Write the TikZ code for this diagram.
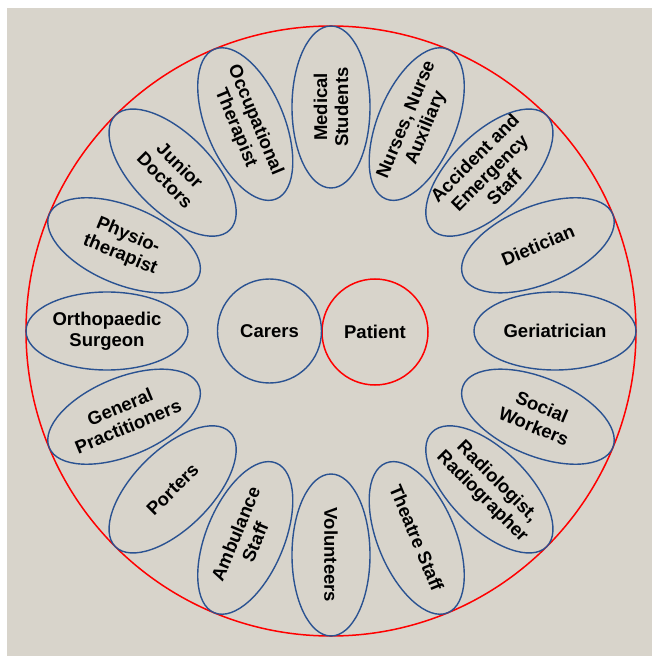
\documentclass[tikz,border=0pt]{standalone}
\usepackage{fontspec}
\setmainfont{Liberation Sans}
\usetikzlibrary{positioning}
\definecolor{backdrop}{RGB}{216,212,203}
\definecolor{ringblue}{RGB}{42,82,145}

\begin{document}
\begin{tikzpicture}[x=1pt, y=1pt, font=\fontsize{18.5}{21}\selectfont\bfseries,
    staff/.style={align=center, inner sep=0pt},
    ring/.style={draw=ringblue, line width=1.4pt}]
                \useasboundingbox (-331,-325) rectangle (321,331);
                \fill[backdrop] (-324,-325) rectangle (321,323);

                \node[circle, draw=red, line width=1.5pt, minimum size=610pt] (Team) at (0,0) {};
                \node[circle, draw=red, line width=1.5pt, minimum size=106pt] (Patient) at (44,-1) {Patient};
                \node[circle, ring, minimum size=104pt] (Carers) at (-61.5,0) {Carers};

                \node[staff] (Geriatrician) at (0:224) {Geriatrician};
                \node[staff, rotate=22.5] (Dietician) at (22.5:224) {Dietician};
                \node[staff, rotate=45] (Accident) at (45:224) {Accident and\\Emergency\\Staff};
                \node[staff, rotate=67.5] (Nurses) at (67.5:224) {Nurses, Nurse\\Auxiliary};
                \node[staff, rotate=90] (Medical Students) at (90:224) {Medical\\Students};
                \node[staff, rotate=-67.5] (Occupational) at (112.5:224) {Occupational\\Therapist};
                \node[staff, rotate=-45] (Junior Doctors) at (135:224) {Junior\\Doctors};
                \node[staff, rotate=-22.5] (Physio) at (157.5:224) {Physio-\\therapist};
                \node[staff] (Orthopaedic) at (180:224) {Orthopaedic\\Surgeon};
                \node[staff, rotate=22.5] (GP) at (202.5:224) {General\\Practitioners};
                \node[staff, rotate=45] (Porters) at (225:224) {Porters};
                \node[staff, rotate=67.5] (Ambulance) at (247.5:224) {Ambulance\\Staff};
                \node[staff, rotate=-90] (Volunteers) at (270:224) {Volunteers};
                \node[staff, rotate=-67.5] (Theatre) at (292.5:224) {Theatre Staff};
                \node[staff, rotate=-45] (Radiologist) at (315:224) {Radiologist,\\Radiographer};
                \node[staff, rotate=-22.5] (Social Workers) at (337.5:224) {Social\\Workers};

                \draw[ring] (Geriatrician) ellipse (81pt and 39pt);
                \draw[ring, rotate around={22.5:(Dietician)}] (Dietician) ellipse (81pt and 39pt);
                \draw[ring, rotate around={45:(Accident)}] (Accident) ellipse (81pt and 39pt);
                \draw[ring, rotate around={67.5:(Nurses)}] (Nurses) ellipse (81pt and 39pt);
                \draw[ring, rotate around={90:(Medical Students)}] (Medical Students) ellipse (81pt and 39pt);
                \draw[ring, rotate around={-67.5:(Occupational)}] (Occupational) ellipse (81pt and 39pt);
                \draw[ring, rotate around={-45:(Junior Doctors)}] (Junior Doctors) ellipse (81pt and 39pt);
                \draw[ring, rotate around={-22.5:(Physio)}] (Physio) ellipse (81pt and 39pt);
                \draw[ring] (Orthopaedic) ellipse (81pt and 39pt);
                \draw[ring, rotate around={22.5:(GP)}] (GP) ellipse (81pt and 39pt);
                \draw[ring, rotate around={45:(Porters)}] (Porters) ellipse (81pt and 39pt);
                \draw[ring, rotate around={67.5:(Ambulance)}] (Ambulance) ellipse (81pt and 39pt);
                \draw[ring, rotate around={90:(Volunteers)}] (Volunteers) ellipse (81pt and 39pt);
                \draw[ring, rotate around={-67.5:(Theatre)}] (Theatre) ellipse (81pt and 39pt);
                \draw[ring, rotate around={-45:(Radiologist)}] (Radiologist) ellipse (81pt and 39pt);
                \draw[ring, rotate around={-22.5:(Social Workers)}] (Social Workers) ellipse (81pt and 39pt);

            \end{tikzpicture}
\end{document}
